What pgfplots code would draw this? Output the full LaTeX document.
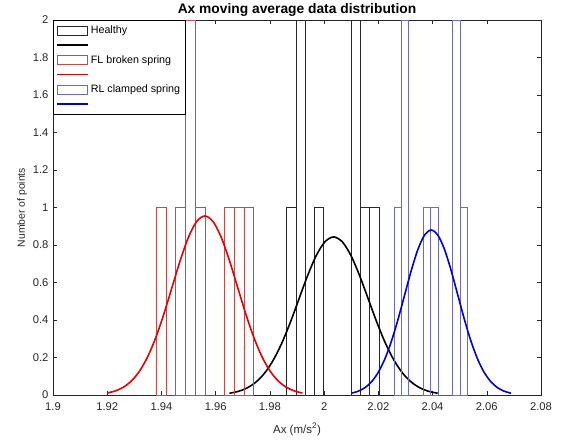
\documentclass[border=0pt]{standalone}
\usepackage{pgfplots}
\pgfplotsset{compat=1.18}
\usepackage{fontspec}
\setmainfont{Liberation Sans}
\usetikzlibrary{calc}
\definecolor{axgray}{RGB}{38,38,38}
\definecolor{hbar}{RGB}{40,40,40}
\definecolor{rbar}{RGB}{205,70,70}
\definecolor{bbar}{RGB}{105,105,200}
\definecolor{mred}{RGB}{230,0,0}
\definecolor{mblue}{RGB}{0,0,220}
\begin{document}
\begin{tikzpicture}
\begin{axis}[
  name=ax,
  scale only axis,
  width=488pt, height=375pt,
  xmin=1.9, xmax=2.08, ymin=0, ymax=2,
  xtick={1.9,1.92,...,2.081},
  ytick={0,0.2,...,2.01},
  tick align=inside,
  major tick length=4pt,
  axis line style={axgray, line width=0.5pt},
  tick style={axgray, line width=0.5pt},
  /pgf/number format/assume math mode=true,
  /pgf/number format/fixed,
  /pgf/number format/precision=2,
  ticklabel style={font=\fontsize{11.2}{13}\selectfont, text=axgray},
  xticklabel style={yshift=-4pt},
  yticklabel style={xshift=-1pt},
  xlabel={Ax (m/s\textsuperscript{2})},
  ylabel={Number of points},
  label style={font=\fontsize{10.8}{12}\selectfont, text=axgray},
  title={\textbf{Ax moving average data distribution}},
  title style={font=\fontsize{13.8}{15}\selectfont, yshift=-6pt},
  xlabel style={yshift=-6pt, font=\fontsize{11.5}{13}\selectfont},
  ylabel style={yshift=-1pt, font=\fontsize{10.4}{12}\selectfont},
  legend style={at={(0,1)}, anchor=north west, draw=black, line width=0.5pt,
    font=\fontsize{10.7}{12}\selectfont, inner xsep=3pt, inner ysep=3.5pt,
    row sep=1.7pt, cells={anchor=west}},
  legend cell align=left,
]
% Healthy
\addplot[ybar interval, draw=hbar, fill=none, line width=0.5pt,
  legend image code/.code={\draw[hbar, line width=0.5pt, fill=none] (0pt,-4.5pt) rectangle (30pt,4.5pt);}]
  coordinates {(1.9862,1) (1.9896,2) (1.9930,0) (1.9964,1) (1.9998,0) (2.0032,0) (2.0066,0) (2.0100,2) (2.0134,1) (2.0168,1) (2.0202,0)};
\addlegendentry{Healthy}
\addplot[black, line width=1.6pt, smooth, mark=none,
  legend image code/.code={\draw[black, line width=1.6pt] (0pt,0pt) -- (31pt,0pt);}]
  coordinates {(1.9651,0.0094) (1.9683,0.0192) (1.9715,0.0370) (1.9747,0.0671) (1.9779,0.1141) (1.9811,0.1823) (1.9843,0.2737) (1.9875,0.3859) (1.9907,0.5113) (1.9939,0.6363) (1.9971,0.7439) (2.0003,0.8170) (2.0035,0.843) (2.0067,0.8170) (2.0099,0.7439) (2.0131,0.6363) (2.0163,0.5113) (2.0195,0.3859) (2.0227,0.2737) (2.0259,0.1823) (2.0291,0.1141) (2.0323,0.0671) (2.0355,0.0370) (2.0387,0.0192) (2.0419,0.0094)};
\addlegendentry{\phantom{X}}
% FL broken spring
\addplot[ybar interval, draw=rbar, fill=none, line width=0.5pt,
  legend image code/.code={\draw[rbar, line width=0.5pt, fill=none] (0pt,-4.5pt) rectangle (30pt,4.5pt);}]
  coordinates {(1.9380,1) (1.9416,0) (1.9452,1) (1.9488,2) (1.9524,1) (1.9560,0) (1.9596,0) (1.9632,1) (1.9668,1) (1.9704,1) (1.9740,0)};
\addlegendentry{FL broken spring}
\addplot[mred, line width=1.6pt, smooth, mark=none,
  legend image code/.code={\draw[mred, line width=1.6pt] (0pt,0pt) -- (31pt,0pt);}]
  coordinates {(1.920,0.0106) (1.923,0.0218) (1.926,0.0419) (1.929,0.0760) (1.932,0.1292) (1.935,0.2066) (1.938,0.3101) (1.941,0.4372) (1.944,0.5792) (1.947,0.7208) (1.950,0.8428) (1.953,0.9256) (1.956,0.955) (1.959,0.9256) (1.962,0.8428) (1.965,0.7208) (1.968,0.5792) (1.971,0.4372) (1.974,0.3101) (1.977,0.2066) (1.980,0.1292) (1.983,0.0760) (1.986,0.0419) (1.989,0.0218) (1.992,0.0106)};
\addlegendentry{\phantom{X}}
% RL clamped spring
\addplot[ybar interval, draw=bbar, fill=none, line width=0.5pt,
  legend image code/.code={\draw[bbar, line width=0.5pt, fill=none] (0pt,-4.5pt) rectangle (30pt,4.5pt);}]
  coordinates {(2.0258,1) (2.0285,2) (2.0312,0) (2.0339,0) (2.0366,1) (2.0393,1) (2.0420,0) (2.0447,0) (2.0474,2) (2.0501,1) (2.0528,0)};
\addlegendentry{RL clamped spring}
\addplot[mblue, line width=1.6pt, smooth, mark=none,
  legend image code/.code={\draw[mblue, line width=1.6pt] (0pt,0pt) -- (31pt,0pt);}]
  coordinates {(2.0101,0.0098) (2.01255,0.0201) (2.0150,0.0386) (2.01745,0.0700) (2.0199,0.1191) (2.02235,0.1903) (2.0248,0.2857) (2.02725,0.4029) (2.0297,0.5337) (2.03215,0.6642) (2.0346,0.7766) (2.03705,0.8529) (2.0395,0.88) (2.04195,0.8529) (2.0444,0.7766) (2.04685,0.6642) (2.0493,0.5337) (2.05175,0.4029) (2.0542,0.2857) (2.05665,0.1903) (2.0591,0.1191) (2.06155,0.0700) (2.0640,0.0386) (2.06645,0.0201) (2.0689,0.0098)};
\addlegendentry{\phantom{X}}
\end{axis}
\pgfresetboundingbox
\path ($(ax.south west)+(-53pt,-47pt)$) rectangle ($(ax.north east)+(23pt,20pt)$);
\end{tikzpicture}
\end{document}
